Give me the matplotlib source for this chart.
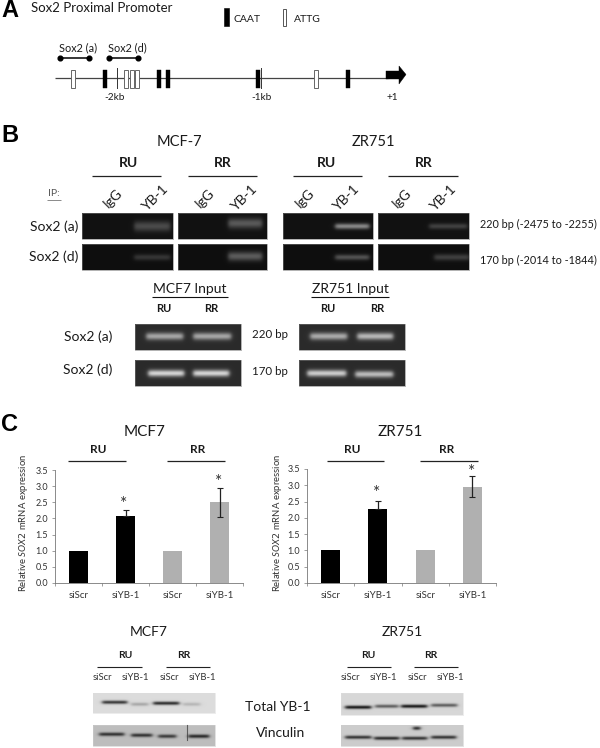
import numpy as np
import matplotlib
matplotlib.use("Agg")
import matplotlib.pyplot as plt
from matplotlib.patches import Rectangle, Polygon

plt.rcParams['font.family'] = ['Lato', 'DejaVu Sans']
plt.rcParams['mathtext.fontset'] = 'custom'
plt.rcParams['mathtext.it'] = 'Lato:italic'

# values
bar_labels = ["siScr", "siYB-1", "siScr", "siYB-1"]
bar_colors = ["black", "black", "#b0b0b0", "#b0b0b0"]
mcf7_values = [1.0, 2.07, 1.0, 2.5]
mcf7_err_low = [0, 0, 0, 0.45]
mcf7_err_high = [0, 0.18, 0, 0.45]
zr751_values = [1.0, 2.26, 1.0, 2.95]
zr751_err_low = [0, 0, 0, 0.32]
zr751_err_high = [0, 0.25, 0, 0.32]
y_ticks = [0.0, 0.5, 1.0, 1.5, 2.0, 2.5, 3.0, 3.5]

caat_sites = [105, 159, 168, 258, 348]
attg_sites = [73, 126, 132, 137, 316]
kb_marks = [116.5, 261]

# gel bands: x start, x end, y, brightness
chip_bands = [
    [(134, 170, 226, 0.24)], [(228, 262, 223, 0.3)],
    [(335, 369, 226, 0.5)], [(429, 467, 226, 0.2)],
    [(134, 170, 257, 0.16)], [(228, 262, 256, 0.32)],
    [(335, 369, 257, 0.28)], [(434, 469, 257, 0.2)],
]
chip_sigma = [5.0, 5.0, 2.8, 2.8, 3.0, 4.5, 2.8, 3.2]
input_bands = [
    [(146, 183, 336, 0.58), (193, 231, 336, 0.58)],
    [(310, 347, 336, 0.6), (357, 393, 336, 0.66)],
    [(148, 184, 373, 0.8), (193, 229, 373, 0.8)],
    [(307, 346, 373, 0.76), (355, 393, 374, 0.68)],
]
# blot bands: x start, x end, y, darkness
yb1_left = [(102, 127, 702, 0.8), (131, 148, 704, 0.25), (153, 179, 703, 0.85), (183, 200, 704, 0.18)]
yb1_right = [(345, 371, 707, 0.95), (375, 398, 706, 0.6), (401, 427, 706, 0.95), (431, 457, 705, 0.6)]
vin_left = [(99, 124, 734, 0.8), (131, 152, 735, 0.8), (158, 176, 736, 0.75), (188, 209, 736, 0.85)]
vin_right = [(345, 371, 737, 0.8), (374, 399, 738, 0.85), (402, 427, 738, 0.8), (431, 456, 737, 0.8),
             (413, 420, 728, 0.9)]


fig = plt.figure(figsize=(6, 7.48), dpi=100)
ax = fig.add_axes([0, 0, 1, 1])
ax.set_axis_off()


def txt(x, y, s, size=9, **kw):
    kw.setdefault('ha', 'center')
    kw.setdefault('va', 'center')
    kw.setdefault('color', '#1a1a1a')
    return ax.text(x, y, s, fontsize=size, **kw)


def hline(x0, x1, y, color='#222222', lw=0.9):
    ax.plot([x0, x1], [y, y], color=color, lw=lw, solid_capstyle='butt')


def gel(x0, x1, y0, y1, bands, base, sigma, band_color=1.0, edge='#777777'):
    xs = np.arange(x0, x1, 0.5)
    ys = np.arange(y0, y1, 0.5)
    X, Y = np.meshgrid(xs, ys)
    img = np.full(X.shape, float(base))
    for bx0, bx1, by, level in bands:
        soft = 2.2
        across = 0.5 * (np.tanh((X - bx0) / soft) - np.tanh((X - bx1) / soft))
        img += (band_color - base) * level * across * np.exp(-((Y - by) / sigma) ** 2)
    ax.imshow(img, cmap='gray', vmin=0, vmax=1, extent=[x0, x1, y1, y0],
              aspect='auto', interpolation='bilinear', zorder=2)
    ax.add_patch(Rectangle((x0, y0), x1 - x0, y1 - y0, fill=False, ec=edge, lw=0.4, zorder=3))


# panel A
bold = ['Liberation Sans']
txt(1, 10, "A", size=17, ha='left', family=bold, fontweight='bold', color='black')
txt(31, 8, "Sox2 Proximal Promoter", size=9.5, ha='left')
ax.add_patch(Rectangle((224, 8), 4.5, 18, fc='black', ec='black', lw=0.4))
txt(234, 19, "CAAT", size=7.5, ha='left')
ax.add_patch(Rectangle((282.5, 8.5), 3.5, 17.5, fc='white', ec='#555555', lw=0.7))
txt(294, 19, "ATTG", size=7.5, ha='left')
hline(55, 388, 78, color='#444444', lw=0.9)
for s in caat_sites:
    ax.add_patch(Rectangle((s - 2, 70), 4, 18, fc='black', ec='black', lw=0.3, zorder=3))
for s in attg_sites:
    ax.add_patch(Rectangle((s - 2.2, 70), 4.4, 18, fc='white', ec='#666666', lw=0.7, zorder=3))
for s in kb_marks:
    ax.plot([s, s], [68, 88], color='#333333', lw=0.7, zorder=4)
ax.add_patch(Polygon([(386, 71), (399, 71), (399, 66), (406, 74.5), (399, 84), (399, 79), (386, 79)],
                     closed=True, fc='black', ec='black', lw=0.3, zorder=4))
txt(115, 97.5, "-2kb", size=7.2)
txt(261, 97.5, "-1kb", size=7.2)
txt(392, 97.5, "+1", size=7.2)
txt(78, 48, "Sox2 (a)", size=7.8)
txt(127, 48, "Sox2 (d)", size=7.8)
ax.plot([60, 88.5], [57.5, 57.5], color='black', lw=1.1, marker='o', ms=3.4)
ax.plot([109, 138], [57.5, 57.5], color='black', lw=1.1, marker='o', ms=3.4)

# panel B
txt(1, 135, "B", size=17, ha='left', family=bold, fontweight='bold', color='black')
txt(179, 142, "MCF-7", size=10.5)
txt(373, 142, "ZR751", size=10.5)
for x, s in zip([129, 223, 326, 424], ["RU", "RR", "RU", "RR"]):
    txt(x, 163, s, size=10, fontweight='bold')
for x0, x1 in [(92, 161), (187.5, 257), (293, 362), (388, 458)]:
    hline(x0, x1, 176)
txt(54, 193, "IP:", size=7.5, color='#555555')
hline(47, 61, 199.5, color='#777777', lw=0.6)
for x, s in zip([113, 155, 205, 244, 305, 346, 402, 443],
                ["IgG", "YB-1", "IgG", "YB-1", "IgG", "YB-1", "IgG", "YB-1"]):
    txt(x, 198, s, size=10, rotation=45)
txt(78, 227, "Sox2 (a)", size=10, ha='right')
txt(78, 257, "Sox2 (d)", size=10, ha='right')
txt(480, 224, "220 bp (-2475 to -2255)", size=7.8, ha='left')
txt(480, 260, "170 bp (-2014 to -1844)", size=7.8, ha='left')
chip_x = [(82, 173), (178, 267), (283, 373), (378, 469)]
for i, (x0, x1) in enumerate(chip_x):
    gel(x0, x1, 213, 239, chip_bands[i], 0.07, chip_sigma[i])
    gel(x0, x1, 244, 270, chip_bands[i + 4], 0.06, chip_sigma[i + 4])

txt(190, 289, "MCF7 Input", size=10)
txt(350, 289, "ZR751 Input", size=10)
hline(152, 228, 297, color='#111111', lw=0.8)
hline(311, 389, 297, color='#111111', lw=0.8)
for x, s in zip([164, 211, 328, 377], ["RU", "RR", "RU", "RR"]):
    txt(x, 308, s, size=8, fontweight='bold')
txt(88, 337, "Sox2 (a)", size=10)
txt(88, 370, "Sox2 (d)", size=10)
txt(270, 334, "220 bp", size=8.3)
txt(270, 371, "170 bp", size=8.3)
gel(135, 241, 324, 350, input_bands[0], 0.17, 3.6)
gel(299, 405, 324, 350, input_bands[1], 0.17, 3.6)
gel(135, 241, 360, 386, input_bands[2], 0.17, 3.4)
gel(299, 405, 360, 386, input_bands[3], 0.17, 3.4)

# panel C
txt(1, 424, "C", size=17, ha='left', family=bold, fontweight='bold', color='black')
txt(145, 432, "MCF7", size=11)
txt(400, 432, "ZR751", size=11)
for x, s in zip([98, 198, 352, 447], ["RU", "RR", "RU", "RR"]):
    txt(x, 449, s, size=8.5, fontweight='bold')
for x0, x1 in [(68, 126), (167, 225), (327, 384), (420, 478)]:
    hline(x0, x1, 461)
for x, y in [(124, 504), (219, 482), (377, 493), (472, 472)]:
    txt(x, y, "*", size=12.5, color='#333333')
ax.set_xlim(0, 600)
ax.set_ylim(748, 0)


def bar_panel(px0, px1, py0, py1, values, err_low, err_high, ylab_x):
    sub = fig.add_axes([px0 / 600, 1 - py0 / 748, (px1 - px0) / 600, (py0 - py1) / 748])
    sub.patch.set_alpha(0)
    x = np.arange(len(values))
    sub.bar(x, values, width=0.4, color=bar_colors)
    for i in range(len(values)):
        if err_high[i] > 0:
            sub.errorbar(x[i], values[i], yerr=[[err_low[i]], [err_high[i]]], color='#222222',
                         capsize=2, lw=0.9, capthick=0.8)
    sub.set_xlim(-0.5, 3.5)
    sub.set_ylim(0, 3.5)
    sub.set_yticks(y_ticks)
    sub.set_yticklabels(["%.1f" % v for v in y_ticks], fontsize=6.5, color='#333333')
    sub.set_xticks([-0.5, 0.5, 1.5, 2.5, 3.5])
    sub.set_xticklabels([])
    sub.set_xticks(x, minor=True)
    sub.set_xticklabels(bar_labels, minor=True, fontsize=7, color='#333333')
    sub.tick_params(axis='x', which='minor', length=0, pad=6)
    sub.tick_params(axis='both', which='major', length=2, width=0.5, color='#777777', pad=3)
    for side in ['top', 'right']:
        sub.spines[side].set_visible(False)
    for side in ['left', 'bottom']:
        sub.spines[side].set_color('#777777')
        sub.spines[side].set_linewidth(0.6)
    ax.text(ylab_x, 523, r"Relative $\mathit{SOX2}$ mRNA expression", rotation=90, fontsize=6.8,
            ha='center', va='center', color='#333333')


bar_panel(55, 243, 583, 470, mcf7_values, mcf7_err_low, mcf7_err_high, 24)
bar_panel(307, 496, 583, 469, zr751_values, zr751_err_low, zr751_err_high, 277)

# western blots
txt(149, 632, "MCF7", size=10)
txt(402, 632, "ZR751", size=10)
for x, s in zip([125, 184, 368, 431], ["RU", "RR", "RU", "RR"]):
    txt(x, 656, s, size=7.5, fontweight='bold')
for x0, x1 in [(97, 142), (166, 210), (347, 391), (414, 458)]:
    hline(x0, x1, 667, lw=0.8)
for x, s in zip([102, 135, 169, 202, 350, 383, 417, 450], bar_labels * 2):
    txt(x, 677, s, size=6.8, color='#333333')
txt(278, 707, "Total YB-1", size=10)
txt(281, 733, "Vinculin", size=10)
gel(93, 215, 693, 713, yb1_left, 0.86, 1.7, band_color=0.05, edge='#dddddd')
gel(341, 463, 693, 715, yb1_right, 0.84, 1.7, band_color=0.05, edge='#dddddd')
gel(93, 215, 725, 746, vin_left, 0.74, 1.8, band_color=0.05, edge='#cccccc')
gel(341, 463, 725, 746, vin_right, 0.80, 1.7, band_color=0.05, edge='#cccccc')
ax.plot([187, 187], [725, 740], color='#333333', lw=0.8, alpha=0.7, zorder=4)
ax.set_xlim(0, 600)
ax.set_ylim(748, 0)

fig.savefig("out.png", dpi=100, facecolor='white')
